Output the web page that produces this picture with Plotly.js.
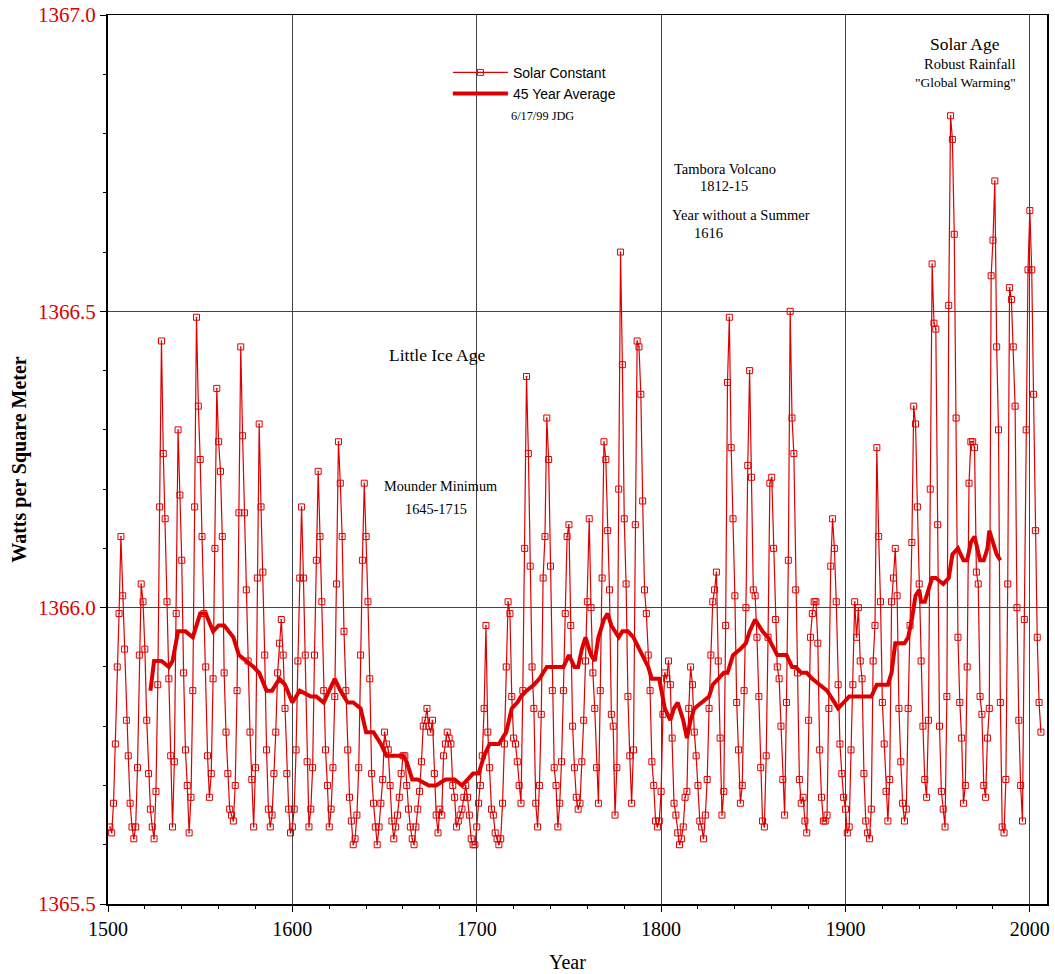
<!DOCTYPE html>
<html>
<head>
<meta charset="utf-8">
<script src="https://cdn.plot.ly/plotly-3.0.1.min.js"></script>
<style>html,body{margin:0;padding:0;background:#fff}#chart{width:1055px;height:974px}</style>
</head>
<body>
<div id="chart"></div>
<script>
// Annual solar constant (W/m^2), by century; first year of each block given separately
const start1500s = 1501;
const tsi1500s = [
1365.63,1365.62,1365.67,1365.77,1365.90,1365.99,1366.12,1366.02,1365.93,1365.81,
1365.75,1365.67,1365.63,1365.61,1365.63,1365.73,1365.92,1366.04,1366.01,1365.93,
1365.81,1365.72,1365.66,1365.63,1365.61,1365.69,1365.87,1366.17,1366.45,1366.26,
1366.15,1366.01,1365.88,1365.75,1365.63,1365.74,1365.99,1366.30,1366.19,1366.08,
1365.89,1365.76,1365.70,1365.62,1365.68,1365.86,1366.17,1366.49,1366.34,1366.25,
1366.12,1365.99,1365.90,1365.75,1365.68,1365.72,1365.88,1366.10,1366.37,1366.28,
1366.23,1366.12,1365.89,1365.79,1365.72,1365.66,1365.65,1365.64,1365.70,1365.86,
1366.16,1366.44,1366.29,1366.16,1366.03,1365.91,1365.79,1365.71,1365.63,1365.73,
1366.05,1366.31,1366.17,1366.06,1365.92,1365.76,1365.66,1365.63,1365.65,1365.72,
1365.79,1365.89,1365.94,1365.98,1365.92,1365.83,1365.72,1365.66,1365.62,1365.63];
const start1600s = 1601;
const tsi1600s = [
1365.66,1365.76,1365.91,1366.05,1366.17,1366.05,1365.92,1365.74,1365.63,1365.66,
1365.73,1365.92,1366.08,1366.23,1366.12,1366.01,1365.86,1365.76,1365.70,1365.63,
1365.66,1365.73,1365.85,1366.04,1366.28,1366.21,1366.12,1365.96,1365.86,1365.76,
1365.68,1365.64,1365.60,1365.61,1365.65,1365.73,1365.92,1366.08,1366.21,1366.12,
1366.01,1365.88,1365.72,1365.67,1365.63,1365.60,1365.63,1365.67,1365.71,1365.79,
1365.77,1365.76,1365.70,1365.64,1365.61,1365.63,1365.65,1365.68,1365.72,1365.75,
1365.75,1365.70,1365.66,1365.63,1365.61,1365.60,1365.63,1365.66,1365.69,1365.74,
1365.80,1365.81,1365.83,1365.80,1365.79,1365.81,1365.72,1365.65,1365.62,1365.66,
1365.65,1365.75,1365.77,1365.79,1365.78,1365.77,1365.70,1365.68,1365.63,1365.64,
1365.65,1365.66,1365.68,1365.70,1365.68,1365.65,1365.61,1365.60,1365.60,1365.63];
const start1700s = 1701;
const tsi1700s = [
1365.67,1365.70,1365.75,1365.83,1365.97,1365.79,1365.73,1365.66,1365.65,1365.62,
1365.61,1365.60,1365.61,1365.67,1365.77,1365.90,1366.01,1365.99,1365.85,1365.78,
1365.77,1365.74,1365.70,1365.67,1365.86,1366.10,1366.39,1366.26,1366.07,1365.90,
1365.83,1365.67,1365.63,1365.70,1365.82,1366.05,1366.12,1366.32,1366.25,1366.07,
1365.86,1365.73,1365.70,1365.63,1365.67,1365.74,1365.86,1365.99,1366.12,1366.14,
1365.97,1365.80,1365.73,1365.68,1365.66,1365.67,1365.74,1365.81,1365.91,1366.01,
1366.15,1366.00,1365.89,1365.83,1365.73,1365.67,1365.86,1366.05,1366.28,1366.25,
1366.13,1366.03,1365.82,1365.80,1365.65,1365.73,1366.20,1366.60,1366.41,1366.15,
1366.04,1365.85,1365.75,1365.67,1365.76,1366.14,1366.45,1366.44,1366.36,1366.18,
1366.03,1365.99,1365.92,1365.86,1365.74,1365.70,1365.64,1365.63,1365.64,1365.69];
const start1800s = 1801;
const tsi1800s = [
1365.82,1365.89,1365.88,1365.91,1365.87,1365.78,1365.67,1365.65,1365.62,1365.60,
1365.61,1365.63,1365.68,1365.69,1365.83,1365.90,1365.87,1365.79,1365.75,1365.70,
1365.64,1365.63,1365.61,1365.65,1365.71,1365.83,1365.92,1366.01,1366.03,1366.06,
1365.91,1365.78,1365.65,1365.69,1365.97,1366.38,1366.49,1366.27,1366.15,1366.02,
1365.84,1365.76,1365.67,1365.70,1365.86,1366.00,1366.24,1366.40,1366.22,1366.03,
1366.02,1365.95,1365.85,1365.73,1365.64,1365.63,1365.75,1365.95,1366.21,1366.22,
1366.10,1365.98,1365.90,1365.88,1365.80,1365.71,1365.65,1365.84,1366.08,1366.50,
1366.32,1366.26,1366.03,1365.89,1365.71,1365.67,1365.68,1365.64,1365.62,1365.81,
1365.95,1365.99,1366.01,1366.01,1365.94,1365.76,1365.68,1365.64,1365.64,1365.65,
1365.83,1366.07,1366.15,1366.10,1366.01,1365.87,1365.77,1365.72,1365.68,1365.66];
const start1900s = 1901;
const tsi1900s = [
1365.62,1365.63,1365.76,1365.87,1366.01,1365.95,1366.00,1365.91,1365.88,1365.72,
1365.64,1365.62,1365.61,1365.66,1365.91,1365.97,1366.27,1366.12,1366.01,1365.84,
1365.77,1365.69,1365.64,1365.71,1366.01,1366.05,1366.10,1366.02,1365.83,1365.74,
1365.67,1365.64,1365.66,1365.83,1365.97,1366.11,1366.34,1366.31,1366.17,1366.04,
1365.91,1365.80,1365.71,1365.68,1365.81,1366.20,1366.58,1366.48,1366.47,1366.14,
1365.80,1365.69,1365.66,1365.63,1365.85,1366.51,1366.83,1366.79,1366.63,1366.32,
1365.95,1365.84,1365.78,1365.67,1365.70,1365.90,1366.21,1366.28,1366.28,1366.27,
1366.06,1366.04,1365.85,1365.82,1365.70,1365.68,1365.78,1365.83,1366.56,1366.62,
1366.72,1366.44,1366.30,1365.84,1365.63,1365.62,1365.71,1366.04,1366.54,1366.52,
1366.44,1366.34,1366.00,1365.81,1365.70,1365.64,1365.98,1366.30,1366.57,1366.67,
1366.57,1366.36,1366.13,1365.95,1365.84,1365.79];

// 45-year average
const avgYears = [1523,1525,1529,1533,1535,1538,1542,1546,1550,1553,1557,1560,1563,1568,1571,1575,1579,1582,1586,1589,1593,1596,1600,1604,1610,1613,1617,1620,1623,1626,1630,1633,1637,1640,1644,1648,1651,1655,1660,1662,1665,1668,1674,1678,1683,1688,1692,1695,1698,1701,1704,1707,1712,1714,1716,1719,1722,1724,1727,1731,1734,1738,1741,1744,1747,1750,1753,1755,1757,1759,1760,1762,1764,1766,1769,1771,1773,1777,1779,1782,1785,1788,1790,1793,1795,1797,1799,1802,1805,1807,1809,1812,1814,1816,1818,1822,1826,1828,1831,1834,1836,1839,1843,1846,1848,1851,1853,1855,1858,1861,1863,1868,1871,1873,1876,1879,1882,1886,1890,1892,1894,1896,1899,1902,1905,1909,1912,1914,1917,1921,1923,1925,1927,1930,1932,1934,1936,1938,1940,1941,1943,1946,1947,1949,1953,1956,1958,1961,1964,1966,1968,1970,1973,1975,1977,1978,1980,1982,1984];
const avgValues = [1365.86,1365.91,1365.91,1365.90,1365.91,1365.96,1365.96,1365.95,1365.99,1365.99,1365.96,1365.97,1365.97,1365.95,1365.92,1365.91,1365.90,1365.89,1365.86,1365.86,1365.88,1365.87,1365.84,1365.86,1365.85,1365.85,1365.84,1365.86,1365.88,1365.86,1365.84,1365.84,1365.83,1365.79,1365.79,1365.77,1365.75,1365.75,1365.75,1365.74,1365.71,1365.71,1365.70,1365.70,1365.71,1365.71,1365.70,1365.71,1365.72,1365.72,1365.75,1365.77,1365.77,1365.78,1365.79,1365.83,1365.84,1365.85,1365.86,1365.87,1365.88,1365.90,1365.90,1365.90,1365.90,1365.92,1365.90,1365.90,1365.93,1365.95,1365.94,1365.92,1365.91,1365.95,1365.98,1365.99,1365.97,1365.95,1365.96,1365.96,1365.95,1365.93,1365.92,1365.90,1365.88,1365.88,1365.88,1365.83,1365.81,1365.83,1365.84,1365.81,1365.78,1365.81,1365.83,1365.84,1365.85,1365.87,1365.88,1365.89,1365.89,1365.92,1365.93,1365.94,1365.96,1365.98,1365.97,1365.96,1365.95,1365.93,1365.92,1365.92,1365.90,1365.90,1365.89,1365.89,1365.88,1365.87,1365.86,1365.85,1365.84,1365.83,1365.84,1365.85,1365.85,1365.85,1365.85,1365.85,1365.87,1365.87,1365.87,1365.89,1365.94,1365.94,1365.94,1365.95,1365.98,1366.02,1366.03,1366.01,1366.01,1366.04,1366.05,1366.05,1366.04,1366.05,1366.09,1366.10,1366.08,1366.08,1366.11,1366.12,1366.08,1366.08,1366.10,1366.13,1366.11,1366.09,1366.08];

const yTicks = [1365.5, 1366.0, 1366.5, 1367.0];
const yTickText = ['1365.5', '1366.0', '1366.5', '1367.0'];
const xTicks = [1500, 1600, 1700, 1800, 1900, 2000];

const blocks = [[start1500s, tsi1500s],[start1600s, tsi1600s],[start1700s, tsi1700s],[start1800s, tsi1800s],[start1900s, tsi1900s]];
const years = [], values = [];
blocks.forEach(([s, arr]) => arr.forEach((v, i) => { years.push(s + i); values.push(v); }));

const RED = '#dd0000';
const SERIF = 'Liberation Serif, Times New Roman, serif';

const traces = [
  {x: years, y: values, type: 'scatter', mode: 'lines+markers', name: 'Solar Constant',
   line: {color: RED, width: 1.2},
   marker: {symbol: 'square-open-dot', size: 6, color: RED, line: {color: RED, width: 1}}},
  {x: avgYears, y: avgValues, type: 'scatter', mode: 'lines', name: '45 Year Average',
   line: {color: RED, width: 4}}
];

function ann(text, x, y, size, extra) {
  return Object.assign({text, x, y, xref: 'x', yref: 'y', showarrow: false,
    font: {family: SERIF, size: size, color: '#000'}}, extra || {});
}

const layout = {
  width: 1055, height: 974,
  margin: {l: 108, r: 8, t: 15, b: 70},
  paper_bgcolor: '#fff', plot_bgcolor: '#fff',
  showlegend: true,
  legend: {x: 0.362, y: 0.953, xanchor: 'left', yanchor: 'top', bgcolor: 'rgba(0,0,0,0)',
    font: {family: 'Liberation Sans, Arial, sans-serif', size: 14, color: '#000'},
    itemwidth: 55, tracegroupgap: 0},
  xaxis: {range: [1500, 2009.3], tickvals: xTicks, ticks: 'outside', ticklen: 6, tickcolor: '#000',
    showgrid: true, gridcolor: '#444', gridwidth: 1, zeroline: false,
    showline: true, linecolor: '#000', linewidth: 1.5, mirror: true,
    tickfont: {family: SERIF, size: 20, color: '#000'},
    minor: {dtick: 20, ticks: 'outside', ticklen: 3, tickcolor: '#000', showgrid: false}},
  yaxis: {range: [1365.5, 1367.0], tickvals: yTicks, ticktext: yTickText, ticks: 'outside', ticklen: 6, tickcolor: '#000',
    showgrid: true, gridcolor: '#444', gridwidth: 1, zeroline: false,
    showline: true, linecolor: '#000', linewidth: 2, mirror: true,
    tickfont: {family: SERIF, size: 21, color: RED},
    minor: {dtick: 0.1, ticks: 'outside', ticklen: 3, tickcolor: '#000', showgrid: false},
    title: {text: 'Watts per Square Meter', font: {family: SERIF, size: 20, color: '#000', weight: 'bold'}, standoff: 6}},
  annotations: [
    {text: 'Year', xref: 'paper', yref: 'paper', x: (567 - 108) / 939, y: -(962 - 904) / 889,
     xanchor: 'center', yanchor: 'middle', showarrow: false, font: {family: SERIF, size: 20, color: '#000'}},
    ann('Solar Age', 1964.7, 1366.951, 17.5),
    ann('Robust Rainfall', 1967.5, 1366.918, 14.5),
    ann('"Global Warming"', 1965.3, 1366.886, 13.5),
    ann('Tambora Volcano', 1834.6, 1366.741, 14.5),
    ann('1812-15', 1834.1, 1366.712, 14.5),
    ann('Year without a Summer', 1843.3, 1366.662, 14.5),
    ann('1616', 1825.9, 1366.632, 14.5),
    ann('Little Ice Age', 1678.4, 1366.426, 17.5),
    ann('Mounder Minimum', 1680.6, 1366.205, 14.3),
    ann('1645-1715', 1677.9, 1366.166, 14.3),
    ann('6/17/99 JDG', 1735.9, 1366.830, 12.3)
  ]
};

Plotly.newPlot('chart', traces, layout, {displayModeBar: false, staticPlot: true});
</script>
</body>
</html>
